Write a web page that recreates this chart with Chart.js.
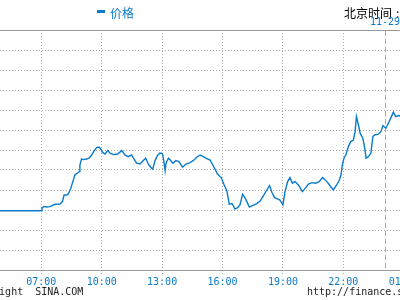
<!DOCTYPE html>
<html><head><meta charset="utf-8">
<script src="https://cdn.jsdelivr.net/npm/chart.js@4/dist/chart.umd.min.js"></script>
<style>
html,body{margin:0;padding:0;background:#fff;overflow:hidden;}
#wrap{position:relative;width:400px;height:300px;overflow:hidden;background:#fff;}
#c{position:absolute;left:0;top:0;}
.t{position:absolute;white-space:pre;line-height:12px;}
</style></head><body>
<div id="wrap">
<canvas id="c" width="440" height="300" style="width:440px;height:300px"></canvas>
<div class="t" style="left:97px;top:10px;width:8px;height:3px;background:#0a7acb"></div>
<span class="t" style="left:110px;top:4px;font:12px 'Noto Sans CJK SC';color:#0a7acb">价格</span>
<span class="t" style="left:344px;top:4px;font:12px 'Noto Sans CJK SC';color:#000">北京时间</span>
<span class="t" style="left:396px;top:4px;font:12px 'Noto Sans CJK SC';color:#000">: 00:50</span>
<span class="t" style="left:370px;top:16px;font:10px 'DejaVu Sans Mono';color:#0a7acb">11-29</span>
<span class="t" style="left:-31px;top:286px;font:10px 'DejaVu Sans Mono';color:#222">Copyright  SINA.COM</span>
<span class="t" style="left:307px;top:286px;font:10px 'DejaVu Sans Mono';color:#222">http://finance.sina.com.cn</span>
</div>
<script>
const times = ["04:00","07:00","07:02","07:08","07:16","07:26","07:36","07:41","07:56","08:03","08:08","08:16","08:20","08:28","08:34","08:40","08:47","08:53","08:55","09:00","09:05","09:15","09:22","09:30","09:38","09:45","09:52","09:57","10:02","10:10","10:18","10:25","10:35","10:47","11:00","11:09","11:19","11:29","11:36","11:44","11:54","12:04","12:11","12:19","12:26","12:32","12:39","12:46","12:52","12:59","13:02","13:06","13:09","13:12","13:19","13:27","13:32","13:41","13:50","14:01","14:11","14:23","14:35","14:43","14:53","15:03","15:13","15:23","15:31","15:38","15:45","15:56","16:05","16:13","16:20","16:28","16:32","16:37","16:45","16:52","17:00","17:09","17:20","17:29","17:42","17:52","18:02","18:12","18:20","18:27","18:35","18:45","18:51","19:00","19:06","19:14","19:21","19:28","19:36","19:46","19:58","20:08","20:16","20:26","20:38","20:48","20:58","21:11","21:21","21:30","21:40","21:47","21:53","21:57","22:02","22:08","22:15","22:22","22:30","22:35","22:39","22:45","22:50","22:58","23:03","23:08","23:15","23:22","23:28","23:33","23:44","23:52","23:58","00:07","00:14","00:22","00:29","00:36","00:44","00:49"];
const prices = [2.96,2.96,3.08,3.18,3.15,3.17,3.25,3.29,3.30,3.42,3.75,3.75,3.79,4.09,4.42,4.75,4.84,4.92,5.25,5.55,5.52,5.55,5.59,5.75,5.97,6.12,6.15,6.05,5.89,5.80,5.97,5.84,5.77,5.80,5.97,5.75,5.67,5.75,5.55,5.34,5.30,5.47,5.59,5.30,5.14,5.04,5.47,5.72,5.84,5.84,5.75,5.34,4.97,5.37,5.59,5.45,5.34,5.47,5.42,5.14,5.30,5.37,5.50,5.64,5.75,5.67,5.57,5.50,5.25,5.04,4.80,4.62,4.25,3.95,3.29,3.32,3.22,3.05,3.12,3.25,3.79,3.54,3.15,3.22,3.32,3.45,3.72,4.00,4.22,3.89,3.62,3.54,3.50,3.25,3.89,4.42,4.62,4.34,4.42,4.25,3.92,4.12,4.30,4.37,4.34,4.42,4.62,4.42,4.20,4.00,4.25,4.45,4.75,5.25,5.59,5.79,6.17,6.42,6.50,6.92,7.67,7.25,6.84,6.59,6.17,5.59,5.67,5.84,6.67,6.75,6.79,6.92,7.22,7.09,7.34,7.62,7.89,7.67,7.72,7.70];
const tickTimes = ["07:00","10:00","13:00","16:00","19:00","22:00","01:00"];
const dayBreak = "00:05";
const xMin = "04:57", xMax = "02:48";
const yMin = 0, yMax = 12, yStep = 1;

const BLUE = '#0a7acb', GRID = '#ababab';
function toHours(s){ const [h,m] = s.split(':').map(Number); let v = h + m/60; if (v < 4) v += 24; return v; }

const framePlugin = {
  id: 'frame',
  beforeDatasetsDraw(chart){
    const {ctx, chartArea: a, scales: {x}} = chart;
    ctx.save();
    ctx.lineWidth = 1;
    ctx.strokeStyle = '#9a9a9a';
    ctx.beginPath();
    ctx.moveTo(0, a.top + 0.5); ctx.lineTo(chart.width, a.top + 0.5);
    ctx.moveTo(0, a.bottom + 0.5); ctx.lineTo(chart.width, a.bottom + 0.5);
    ctx.stroke();
    const dx = Math.round(x.getPixelForValue(toHours(dayBreak))) + 0.5;
    ctx.strokeStyle = '#a5a5a5';
    ctx.setLineDash([5, 3]);
    ctx.beginPath(); ctx.moveTo(dx, a.top + 1); ctx.lineTo(dx, a.bottom); ctx.stroke();
    ctx.restore();
  }
};

new Chart(document.getElementById('c'), {
  type: 'line',
  data: {
    datasets: [{
      label: '价格',
      data: times.map((t, i) => ({x: toHours(t), y: prices[i]})),
      borderColor: BLUE,
      borderWidth: 1.4,
      pointRadius: 0,
      tension: 0,
      fill: false
    }]
  },
  options: {
    responsive: false,
    animation: false,
    events: [],
    layout: {padding: {top: 30, bottom: 12, left: 0, right: 0}},
    plugins: {legend: {display: false}, tooltip: {enabled: false}, title: {display: false}},
    scales: {
      x: {
        type: 'linear',
        min: toHours(xMin),
        max: toHours(xMax),
        afterBuildTicks(scale){ scale.ticks = tickTimes.map(t => ({value: toHours(t)})); },
        ticks: {
          autoSkip: false, maxRotation: 0, padding: 0,
          color: BLUE, font: {family: 'DejaVu Sans Mono', size: 10},
          callback: (v, i) => tickTimes[i]
        },
        grid: {color: GRID, lineWidth: 1, drawTicks: true, tickLength: 6, tickColor: GRID, tickBorderDash: [1, 2]},
        border: {display: false, dash: [1, 2]}
      },
      y: {
        min: yMin, max: yMax,
        ticks: {display: false, stepSize: yStep},
        grid: {color: GRID, lineWidth: 1, drawTicks: false},
        border: {display: false, dash: [1, 2]}
      }
    }
  },
  plugins: [framePlugin]
});
</script>
</body></html>
